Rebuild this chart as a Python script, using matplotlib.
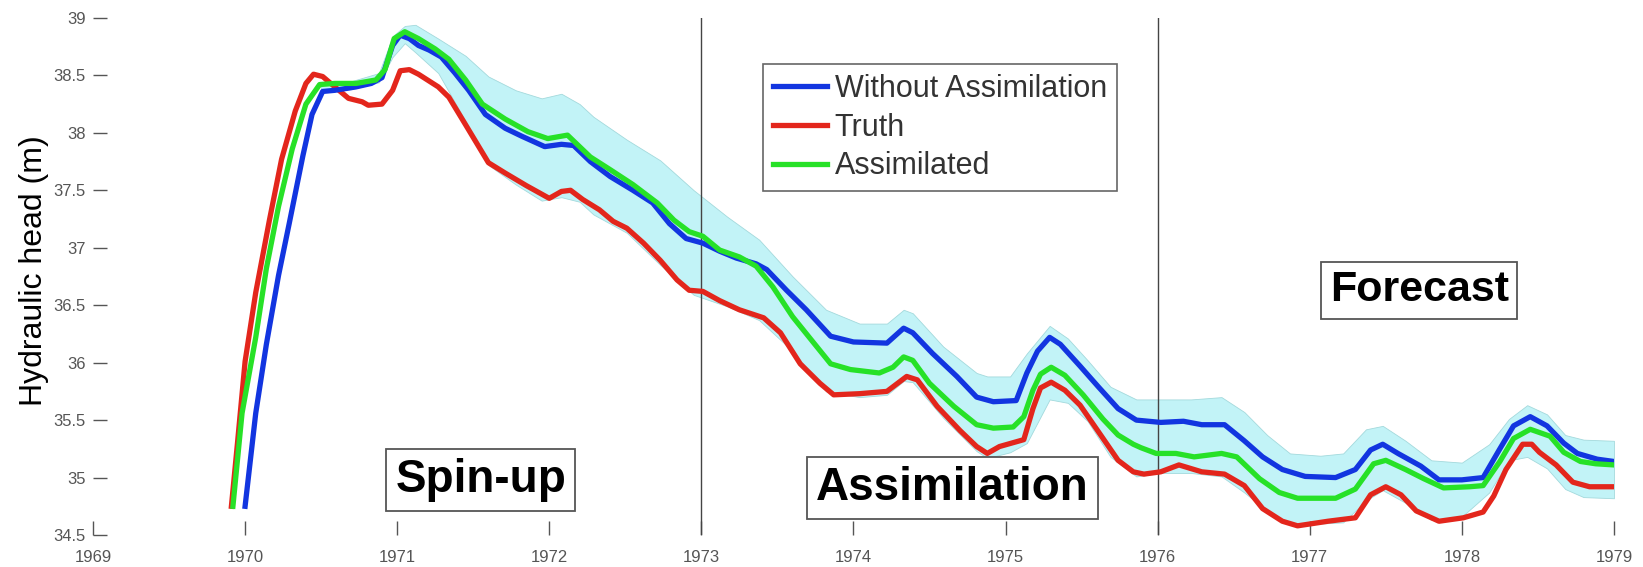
import matplotlib
matplotlib.use('Agg')
import matplotlib.pyplot as plt
import numpy as np

plt.rcParams['font.family'] = ['Liberation Sans', 'DejaVu Sans']

# Without assimilation (blue)
t_without = [1970.00, 1970.07, 1970.14, 1970.22, 1970.29, 1970.38, 1970.44, 1970.51, 1970.59, 1970.73,
             1970.83, 1970.90, 1970.97, 1971.02, 1971.08, 1971.14, 1971.21, 1971.29, 1971.38, 1971.47,
             1971.58, 1971.71, 1971.82, 1971.97, 1972.08, 1972.16, 1972.27, 1972.40, 1972.55, 1972.68,
             1972.79, 1972.90, 1973.01, 1973.12, 1973.23, 1973.36, 1973.43, 1973.56, 1973.69, 1973.85,
             1974.00, 1974.22, 1974.33, 1974.39, 1974.52, 1974.68, 1974.81, 1974.92, 1975.07, 1975.14,
             1975.21, 1975.29, 1975.36, 1975.49, 1975.61, 1975.74, 1975.86, 1976.02, 1976.17, 1976.29,
             1976.44, 1976.57, 1976.69, 1976.82, 1976.97, 1977.17, 1977.30, 1977.40, 1977.48, 1977.58,
             1977.73, 1977.85, 1978.00, 1978.14, 1978.25, 1978.34, 1978.45, 1978.56, 1978.67, 1978.76,
             1978.89, 1979.00]
h_without = [34.75, 35.56, 36.16, 36.76, 37.21, 37.80, 38.16, 38.36, 38.37, 38.40,
             38.43, 38.48, 38.76, 38.85, 38.82, 38.76, 38.72, 38.66, 38.52, 38.37,
             38.16, 38.04, 37.97, 37.88, 37.90, 37.89, 37.75, 37.62, 37.50, 37.39,
             37.21, 37.08, 37.04, 36.97, 36.91, 36.86, 36.81, 36.63, 36.46, 36.23,
             36.18, 36.17, 36.30, 36.26, 36.08, 35.88, 35.70, 35.66, 35.67, 35.91,
             36.10, 36.22, 36.16, 35.97, 35.79, 35.60, 35.50, 35.48, 35.49, 35.46,
             35.46, 35.32, 35.18, 35.07, 35.01, 35.00, 35.07, 35.24, 35.29, 35.21,
             35.10, 34.98, 34.98, 35.00, 35.25, 35.45, 35.53, 35.45, 35.30, 35.21,
             35.16, 35.14]

# Truth (red)
t_truth = [1969.91, 1969.95, 1970.00, 1970.07, 1970.16, 1970.24, 1970.33, 1970.40, 1970.45, 1970.51,
           1970.59, 1970.68, 1970.77, 1970.81, 1970.90, 1970.97, 1971.02, 1971.08, 1971.14, 1971.27,
           1971.34, 1971.45, 1971.60, 1971.71, 1971.85, 1972.00, 1972.08, 1972.14, 1972.22, 1972.33,
           1972.42, 1972.51, 1972.62, 1972.73, 1972.84, 1972.92, 1973.01, 1973.12, 1973.25, 1973.41,
           1973.52, 1973.65, 1973.78, 1973.87, 1974.04, 1974.22, 1974.35, 1974.42, 1974.55, 1974.70,
           1974.81, 1974.88, 1974.96, 1975.12, 1975.18, 1975.23, 1975.30, 1975.39, 1975.49, 1975.61,
           1975.74, 1975.84, 1975.91, 1976.02, 1976.14, 1976.29, 1976.44, 1976.57, 1976.69, 1976.82,
           1976.92, 1977.12, 1977.30, 1977.40, 1977.50, 1977.60, 1977.70, 1977.85, 1978.01, 1978.14,
           1978.21, 1978.29, 1978.40, 1978.46, 1978.51, 1978.62, 1978.73, 1978.84, 1979.00]
h_truth = [34.75, 35.30, 36.01, 36.61, 37.24, 37.77, 38.19, 38.43, 38.51, 38.49,
           38.40, 38.30, 38.27, 38.24, 38.25, 38.37, 38.54, 38.55, 38.51, 38.40,
           38.31, 38.07, 37.74, 37.65, 37.54, 37.43, 37.49, 37.50, 37.42, 37.33,
           37.23, 37.17, 37.04, 36.89, 36.72, 36.63, 36.62, 36.54, 36.46, 36.39,
           36.26, 35.99, 35.82, 35.72, 35.73, 35.75, 35.88, 35.85, 35.62, 35.41,
           35.27, 35.21, 35.27, 35.33, 35.60, 35.78, 35.83, 35.76, 35.63, 35.40,
           35.15, 35.05, 35.03, 35.05, 35.11, 35.05, 35.03, 34.93, 34.73, 34.62,
           34.58, 34.62, 34.65, 34.85, 34.92, 34.85, 34.71, 34.62, 34.65, 34.70,
           34.84, 35.07, 35.29, 35.29, 35.22, 35.11, 34.96, 34.92, 34.92]

# Assimilated (green)
t_assim = [1969.92, 1969.98, 1970.07, 1970.14, 1970.22, 1970.31, 1970.40, 1970.49, 1970.59, 1970.73,
           1970.86, 1970.92, 1970.98, 1971.05, 1971.14, 1971.25, 1971.34, 1971.45, 1971.56, 1971.71,
           1971.86, 1971.99, 1972.12, 1972.27, 1972.40, 1972.55, 1972.71, 1972.82, 1972.92, 1973.01,
           1973.12, 1973.25, 1973.36, 1973.47, 1973.60, 1973.74, 1973.85, 1973.98, 1974.17, 1974.26,
           1974.33, 1974.39, 1974.50, 1974.66, 1974.81, 1974.92, 1975.05, 1975.12, 1975.18, 1975.23,
           1975.30, 1975.39, 1975.51, 1975.64, 1975.74, 1975.84, 1975.89, 1975.99, 1976.12, 1976.24,
           1976.42, 1976.52, 1976.67, 1976.80, 1976.92, 1977.17, 1977.30, 1977.42, 1977.50, 1977.63,
           1977.75, 1977.88, 1978.05, 1978.14, 1978.25, 1978.34, 1978.45, 1978.58, 1978.67, 1978.78,
           1978.88, 1979.00]
h_assim = [34.75, 35.56, 36.22, 36.82, 37.36, 37.86, 38.25, 38.42, 38.43, 38.43,
           38.46, 38.55, 38.82, 38.88, 38.82, 38.73, 38.64, 38.46, 38.25, 38.12,
           38.01, 37.95, 37.98, 37.79, 37.68, 37.55, 37.39, 37.24, 37.14, 37.10,
           36.98, 36.92, 36.84, 36.66, 36.40, 36.17, 35.99, 35.94, 35.91, 35.96,
           36.05, 36.02, 35.82, 35.62, 35.46, 35.43, 35.44, 35.53, 35.76, 35.90,
           35.96, 35.89, 35.72, 35.51, 35.37, 35.29, 35.26, 35.21, 35.21, 35.18,
           35.21, 35.18, 34.99, 34.87, 34.82, 34.82, 34.90, 35.12, 35.15, 35.07,
           34.99, 34.91, 34.92, 34.93, 35.14, 35.34, 35.42, 35.36, 35.22, 35.14,
           35.12, 35.11]

# ensemble spread (cyan band)
t_band = [1970.50, 1970.70, 1970.88, 1970.97, 1971.05, 1971.12, 1971.27, 1971.45, 1971.60, 1971.78,
          1971.95, 1972.08, 1972.20, 1972.29, 1972.51, 1972.73, 1972.95, 1973.17, 1973.38, 1973.60,
          1973.82, 1974.04, 1974.22, 1974.33, 1974.39, 1974.59, 1974.81, 1974.88, 1975.03, 1975.14,
          1975.29, 1975.41, 1975.54, 1975.69, 1975.86, 1976.02, 1976.22, 1976.42, 1976.57, 1976.72,
          1976.87, 1977.07, 1977.22, 1977.37, 1977.48, 1977.63, 1977.80, 1978.00, 1978.18, 1978.31,
          1978.43, 1978.56, 1978.68, 1978.80, 1979.00]
band_hi = [38.42, 38.45, 38.52, 38.84, 38.93, 38.94, 38.82, 38.67, 38.49, 38.37,
           38.30, 38.34, 38.25, 38.14, 37.94, 37.76, 37.50, 37.27, 37.07, 36.75,
           36.46, 36.34, 36.34, 36.46, 36.43, 36.14, 35.91, 35.88, 35.88, 36.08,
           36.32, 36.21, 36.02, 35.79, 35.68, 35.68, 35.68, 35.70, 35.57, 35.37,
           35.21, 35.19, 35.21, 35.42, 35.45, 35.32, 35.15, 35.13, 35.29, 35.51,
           35.63, 35.55, 35.37, 35.33, 35.32]
band_lo = [38.36, 38.38, 38.44, 38.66, 38.78, 38.70, 38.52, 38.10, 37.72, 37.55,
           37.41, 37.44, 37.40, 37.29, 37.13, 36.85, 36.59, 36.49, 36.37, 36.10,
           35.75, 35.70, 35.72, 35.84, 35.83, 35.52, 35.23, 35.17, 35.22, 35.30,
           35.68, 35.65, 35.49, 35.18, 35.01, 35.04, 35.04, 35.01, 34.87, 34.71,
           34.60, 34.60, 34.61, 34.80, 34.89, 34.78, 34.63, 34.66, 34.87, 35.15,
           35.18, 35.08, 34.90, 34.83, 34.82]

years = list(range(1969, 1980))
head_ticks = [34.5, 35, 35.5, 36, 36.5, 37, 37.5, 38, 38.5, 39]

fig = plt.figure(figsize=(16.43, 5.67), dpi=100)
ax = fig.add_axes([0.0566, 0.0564, 0.9257, 0.912])

ax.fill_between(t_band, band_lo, band_hi, facecolor='#c2f3f7', edgecolor='#a3d9dc', lw=0.6, zorder=1)
ax.plot(t_truth, h_truth, color='#e3261c', lw=3.8, label='Truth', zorder=3)
ax.plot(t_without, h_without, color='#1235e0', lw=3.8, label='Without Assimilation', zorder=4)
ax.plot(t_assim, h_assim, color='#27e127', lw=3.8, label='Assimilated', zorder=5)

ax.axvline(1973, color='#444444', lw=1, zorder=2)
ax.axvline(1976, color='#444444', lw=1, zorder=2)

ax.set_xlim(1969, 1979)
ax.set_ylim(34.5, 39)
ax.set_xticks(years)
ax.set_xticklabels([str(y) for y in years])
ax.set_yticks(head_ticks)
ax.set_yticklabels(['%g' % v for v in head_ticks])
for s in ax.spines.values():
    s.set_visible(False)
ax.tick_params(axis='both', direction='in', length=10, width=1, colors='#555555', labelsize=12)
ax.tick_params(axis='y', pad=5)
ax.tick_params(axis='x', pad=11)

fig.text(0.0205, 0.522, 'Hydraulic head (m)', rotation=90, ha='center', va='center', fontsize=23)

# legend in the order of the original
hs, ls = ax.get_legend_handles_labels()
order = [1, 0, 2]
leg = ax.legend([hs[i] for i in order], [ls[i] for i in order],
                loc='upper left', bbox_to_anchor=(763 / 1643, 1 - 64 / 567),
                bbox_transform=fig.transFigure, borderaxespad=0, fontsize=22,
                handlelength=1.76, handletextpad=0.26, labelspacing=0.28, borderpad=0.33,
                fancybox=False, framealpha=1)
leg.get_frame().set_edgecolor('#666666')
leg.get_frame().set_linewidth(1.2)
for t in leg.get_texts():
    t.set_color('#333333')

box = dict(boxstyle='square,pad=0.2', fc='white', ec='#555555', lw=1.3)
ax.text(1971.55, 34.98, 'Spin-up', fontsize=33, fontweight='bold', ha='center', va='center', bbox=box, zorder=6)
ax.text(1974.65, 34.91, 'Assimilation', fontsize=33, fontweight='bold', ha='center', va='center', bbox=box, zorder=6)
ax.text(1977.72, 36.63, 'Forecast', fontsize=31, fontweight='bold', ha='center', va='center', bbox=box, zorder=6)

fig.savefig('out.png', dpi=100)
